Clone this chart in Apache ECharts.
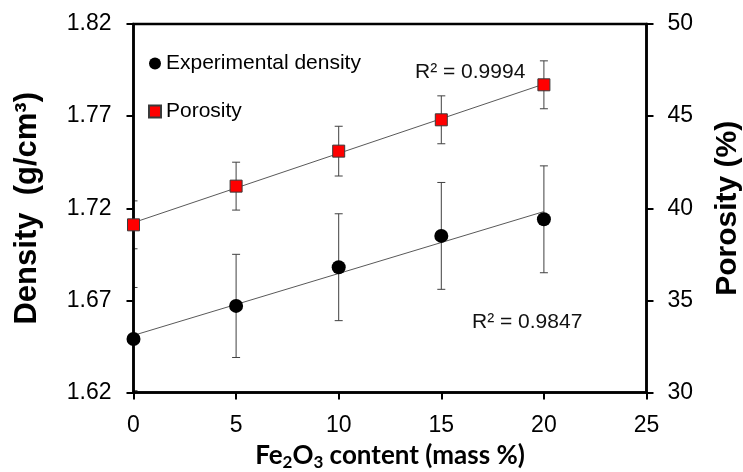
<!DOCTYPE html>
<html lang="en">
    <head>
        <title>Density and porosity vs Fe2O3</title>
        <meta charset="utf-8">
        <script src="https://cdn.jsdelivr.net/npm/echarts@6/dist/echarts.min.js"></script>
    </head>

    <style>
        html, body, #main {
            width: 743px;
            height: 472px;
            margin: 0;
            background: #fff;
        }
    </style>

    <body>
        <div id="main"></div>

        <script>
            // values
            const fe2o3 = [0, 5, 10, 15, 20];
            const density = [1.649, 1.667, 1.688, 1.705, 1.714];
            const densityErr = [0.028, 0.028, 0.029, 0.029, 0.029];
            const porosity = [39.1, 41.2, 43.1, 44.8, 46.7];
            const porosityErr = [1.3, 1.3, 1.35, 1.3, 1.3];
            const densityTicks = [1.62, 1.82, 0.05];
            const porosityTicks = [30, 50, 5];
            const xTicks = [0, 25, 5];
            const densityR2 = 'R² = 0.9847';
            const porosityR2 = 'R² = 0.9994';

            const ARIAL = 'Liberation Sans';

            // least squares line, like the excel trendline
            const fit = (xs, ys) => {
                const n = xs.length;
                const mx = xs.reduce((a, b) => a + b, 0) / n;
                const my = ys.reduce((a, b) => a + b, 0) / n;
                let sxy = 0, sxx = 0;
                for (let i = 0; i < n; i++) {
                    sxy += (xs[i] - mx) * (ys[i] - my);
                    sxx += (xs[i] - mx) * (xs[i] - mx);
                }
                const slope = sxy / sxx;
                const icpt = my - slope * mx;
                const x0 = xs[0], x1 = xs[n - 1];
                return [[x0, icpt + slope * x0], [x1, icpt + slope * x1]];
            };

            const errorBar = (params, api) => {
                const x = api.value(0), y = api.value(1), e = api.value(2);
                const hi = api.coord([x, y + e]);
                const lo = api.coord([x, y - e]);
                const cap = 4;
                const style = { stroke: '#404040', lineWidth: 1 };
                return {
                    type: 'group',
                    children: [
                        { type: 'line', shape: { x1: hi[0], y1: hi[1], x2: lo[0], y2: lo[1] }, style: style },
                        { type: 'line', shape: { x1: hi[0] - cap, y1: hi[1], x2: hi[0] + cap, y2: hi[1] }, style: style },
                        { type: 'line', shape: { x1: lo[0] - cap, y1: lo[1], x2: lo[0] + cap, y2: lo[1] }, style: style }
                    ]
                };
            };

            const axisLine = { show: true, lineStyle: { color: '#000', width: 2.5 } };
            const axisTick = { show: true, inside: false, length: 7, lineStyle: { color: '#000', width: 2 } };
            const tickFont = { color: '#000', fontFamily: ARIAL, fontSize: 23 };

            const chart = echarts.init(document.getElementById('main'));

            const option = {
                backgroundColor: '#fff',
                animation: false,
                grid: {
                    left: 133.5, right: 96.5, top: 24, bottom: 79.5,
                    outerBoundsMode: 'none',
                    show: true, borderColor: '#000', borderWidth: 2.5, z: 1.5
                },
                legend: {
                    orient: 'vertical',
                    left: 148, top: 53, padding: 0,
                    itemWidth: 12, itemHeight: 12, itemGap: 27,
                    textStyle: { color: '#000', fontFamily: ARIAL, fontSize: 21 },
                    data: ['Experimental density', 'Porosity']
                },
                xAxis: {
                    type: 'value',
                    z: 1.5,
                    min: xTicks[0], max: xTicks[1], interval: xTicks[2],
                    splitLine: { show: false },
                    axisLine: axisLine,
                    axisTick: axisTick,
                    axisLabel: Object.assign({ margin: 22 }, tickFont),
                    name: '{b|Fe}{s|2}{b|O}{s|3}{b| content (mass %)}',
                    nameLocation: 'middle',
                    nameGap: 48,
                    nameTextStyle: {
                        rich: {
                            b: { fontFamily: 'Lato', fontWeight: 'bold', fontSize: 26, color: '#000' },
                            s: { fontFamily: 'Lato', fontWeight: 'bold', fontSize: 17, color: '#000', padding: [14, 0, 0, 0] }
                        }
                    }
                },
                yAxis: [{
                    type: 'value',
                    position: 'left',
                    z: 1.5,
                    min: densityTicks[0], max: densityTicks[1], interval: densityTicks[2],
                    splitLine: { show: false },
                    axisLine: axisLine,
                    axisTick: axisTick,
                    axisLabel: Object.assign({ margin: 22, formatter: v => v.toFixed(2) }, tickFont),
                    name: 'Density  (g/cm³)',
                    nameLocation: 'middle',
                    nameRotate: 90,
                    nameGap: 91,
                    nameTextStyle: { color: '#000', fontFamily: ARIAL, fontWeight: 'bold', fontSize: 31 }
                }, {
                    type: 'value',
                    position: 'right',
                    z: 1.5,
                    min: porosityTicks[0], max: porosityTicks[1], interval: porosityTicks[2],
                    splitLine: { show: false },
                    axisLine: axisLine,
                    axisTick: axisTick,
                    axisLabel: Object.assign({ margin: 21 }, tickFont),
                    name: 'Porosity (%)',
                    nameLocation: 'middle',
                    nameRotate: 90,
                    nameGap: 66,
                    nameTextStyle: { color: '#000', fontFamily: ARIAL, fontWeight: 'bold', fontSize: 30 }
                }],
                graphic: [
                    { type: 'text', left: 415, top: 62, style: { text: porosityR2, fill: '#111', font: '21px "Liberation Sans"' } },
                    { type: 'text', left: 472, top: 312, style: { text: densityR2, fill: '#111', font: '21px "Liberation Sans"' } }
                ],
                series: [{
                    name: 'density trend',
                    type: 'line',
                    yAxisIndex: 0,
                    data: fit(fe2o3, density),
                    symbol: 'none',
                    lineStyle: { color: '#595959', width: 1 },
                    z: 1
                }, {
                    name: 'porosity trend',
                    type: 'line',
                    yAxisIndex: 1,
                    data: fit(fe2o3, porosity),
                    symbol: 'none',
                    lineStyle: { color: '#595959', width: 1 },
                    z: 1
                }, {
                    name: 'density error',
                    type: 'custom',
                    yAxisIndex: 0,
                    renderItem: errorBar,
                    clip: true,
                    encode: { x: 0, y: 1 },
                    data: fe2o3.map((x, i) => [x, density[i], densityErr[i]]),
                    z: 1
                }, {
                    name: 'porosity error',
                    type: 'custom',
                    yAxisIndex: 1,
                    renderItem: errorBar,
                    clip: true,
                    encode: { x: 0, y: 1 },
                    data: fe2o3.map((x, i) => [x, porosity[i], porosityErr[i]]),
                    z: 1
                }, {
                    name: 'Experimental density',
                    type: 'scatter',
                    yAxisIndex: 0,
                    symbol: 'circle',
                    symbolSize: 14,
                    itemStyle: { color: '#000', opacity: 1 },
                    data: fe2o3.map((x, i) => [x, density[i]]),
                    z: 3
                }, {
                    name: 'Porosity',
                    type: 'scatter',
                    yAxisIndex: 1,
                    symbol: 'rect',
                    symbolSize: 12,
                    itemStyle: { color: '#ff0000', borderColor: '#3a3a3a', borderWidth: 1, opacity: 1 },
                    data: fe2o3.map((x, i) => [x, porosity[i]]),
                    z: 3
                }]
            };

            chart.setOption(option);
        </script>
    </body>
</html>
